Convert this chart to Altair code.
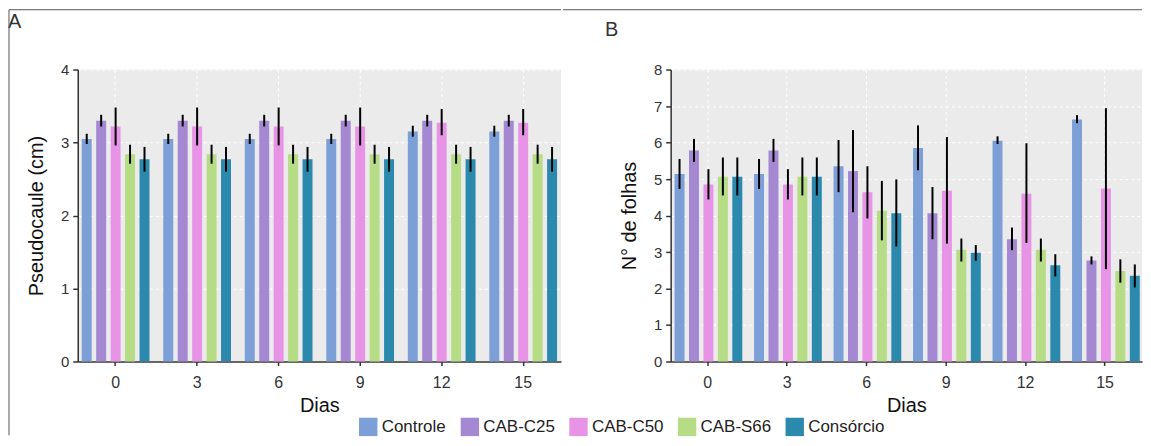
import altair as alt
import pandas as pd

dias = ["0", "3", "6", "9", "12", "15"]
tratamentos = ["Controle", "CAB-C25", "CAB-C50", "CAB-S66", "Consórcio"]
cores = ["#7B9FD6", "#A488D2", "#E894E6", "#B6DC85", "#2B89AD"]

# Panel A - Pseudocaule (cm)
a_controle = [3.05, 3.05, 3.05, 3.05, 3.15, 3.15]
a_controle_lo = [2.98, 2.98, 2.98, 2.98, 3.08, 3.08]
a_controle_hi = [3.12, 3.12, 3.12, 3.12, 3.23, 3.23]
a_c25 = [3.30, 3.30, 3.30, 3.30, 3.30, 3.30]
a_c25_lo = [3.22, 3.22, 3.22, 3.22, 3.22, 3.22]
a_c25_hi = [3.38, 3.38, 3.38, 3.38, 3.38, 3.38]
a_c50 = [3.22, 3.22, 3.22, 3.22, 3.27, 3.27]
a_c50_lo = [2.96, 2.96, 2.96, 2.96, 3.10, 3.10]
a_c50_hi = [3.48, 3.48, 3.48, 3.48, 3.46, 3.46]
a_s66 = [2.84, 2.84, 2.84, 2.84, 2.84, 2.84]
a_s66_lo = [2.71, 2.71, 2.71, 2.71, 2.71, 2.71]
a_s66_hi = [2.97, 2.97, 2.97, 2.97, 2.97, 2.97]
a_cons = [2.77, 2.77, 2.77, 2.77, 2.77, 2.77]
a_cons_lo = [2.60, 2.60, 2.60, 2.60, 2.60, 2.60]
a_cons_hi = [2.94, 2.94, 2.94, 2.94, 2.94, 2.94]

# Panel B - N° de folhas
b_controle = [5.14, 5.14, 5.35, 5.85, 6.05, 6.63]
b_controle_lo = [4.73, 4.73, 4.64, 5.24, 5.96, 6.53]
b_controle_hi = [5.55, 5.55, 6.07, 6.47, 6.17, 6.75]
b_c25 = [5.78, 5.78, 5.22, 4.06, 3.35, 2.77]
b_c25_lo = [5.47, 5.47, 4.09, 3.35, 3.05, 2.66]
b_c25_hi = [6.10, 6.10, 6.34, 4.78, 3.67, 2.88]
b_c50 = [4.85, 4.85, 4.64, 4.68, 4.60, 4.74]
b_c50_lo = [4.44, 4.44, 3.92, 3.23, 3.25, 2.53]
b_c50_hi = [5.27, 5.27, 5.35, 6.15, 5.98, 6.94]
b_s66 = [5.06, 5.06, 4.13, 3.06, 3.06, 2.48]
b_s66_lo = [4.55, 4.55, 3.32, 2.74, 2.74, 2.16]
b_s66_hi = [5.59, 5.59, 4.95, 3.37, 3.37, 2.80]
b_cons = [5.06, 5.06, 4.06, 2.98, 2.64, 2.35]
b_cons_lo = [4.55, 4.55, 3.15, 2.76, 2.33, 2.03]
b_cons_hi = [5.59, 5.59, 4.99, 3.19, 2.94, 2.66]


def build(series):
    rows = []
    for t, (vals, lo, hi) in zip(tratamentos, series):
        for d, v, l, h in zip(dias, vals, lo, hi):
            rows.append({"Dias": d, "Tratamento": t, "Valor": v, "Lo": l, "Hi": h})
    return pd.DataFrame(rows)


df_a = build([
    (a_controle, a_controle_lo, a_controle_hi),
    (a_c25, a_c25_lo, a_c25_hi),
    (a_c50, a_c50_lo, a_c50_hi),
    (a_s66, a_s66_lo, a_s66_hi),
    (a_cons, a_cons_lo, a_cons_hi),
])
df_b = build([
    (b_controle, b_controle_lo, b_controle_hi),
    (b_c25, b_c25_lo, b_c25_hi),
    (b_c50, b_c50_lo, b_c50_hi),
    (b_s66, b_s66_lo, b_s66_hi),
    (b_cons, b_cons_lo, b_cons_hi),
])

legend = alt.Legend(
    title=None, orient="none", legendX=282, legendY=349, direction="horizontal",
    symbolType="square", symbolSize=340, symbolStrokeWidth=0, symbolOpacity=1,
    labelFontSize=17, labelColor="#222", labelOffset=4, columnPadding=14,
)

border = pd.DataFrame({"k": [0]})

PLOT_H = 293


def panel(df, ymax, ytitle, width, letter, letter_x, letter_y, left_ext):
    x_axis = alt.Axis(title="Dias", labelAngle=0, labelFontSize=16,
                      titleFontSize=20, tickSize=4, labelPadding=9,
                      titlePadding=5, titleFontWeight="normal")
    x_scale = alt.Scale(paddingInner=0.169, paddingOuter=0.049)
    x = alt.X("Dias:N", sort=dias, scale=x_scale, axis=x_axis)
    xo = alt.XOffset("Tratamento:N", sort=tratamentos,
                     scale=alt.Scale(paddingInner=0.31, paddingOuter=0))
    y_scale = alt.Scale(domain=[0, ymax], nice=False)
    y_axis = alt.Axis(title=ytitle, values=list(range(ymax + 1)),
                      format="d", labelOverlap=False,
                      labelFontSize=15, titleFontSize=20, tickSize=5,
                      labelPadding=4, titlePadding=14,
                      titleFontWeight="normal")
    color = alt.Color("Tratamento:N", sort=tratamentos,
                      scale=alt.Scale(domain=tratamentos, range=cores),
                      legend=legend)
    bars = alt.Chart(df).mark_bar().encode(
        x=x, xOffset=xo,
        y=alt.Y("Valor:Q", scale=y_scale, axis=y_axis), color=color)
    err = alt.Chart(df).mark_rule(color="black", strokeWidth=2).encode(
        x=x, xOffset=xo,
        y=alt.Y("Lo:Q", scale=y_scale, axis=y_axis), y2="Hi:Q")
    top = alt.Chart(border).mark_rule(color="#555", strokeWidth=1).encode(
        x=alt.value(left_ext), x2=alt.value(width), y=alt.value(-60))
    label = alt.Chart(border).mark_text(
        text=letter, fontSize=20, color="#333", align="left",
        baseline="top").encode(x=alt.value(letter_x), y=alt.value(letter_y))
    layers = [bars, err, top, label]
    if letter == "A":
        left = alt.Chart(border).mark_rule(color="#555", strokeWidth=1).encode(
            x=alt.value(left_ext), y=alt.value(-60), y2=alt.value(367))
        layers.append(left)
    return alt.layer(*layers).properties(width=width, height=PLOT_H)


pa = panel(df_a, 4, "Pseudocaule (cm)", 485, "A", -70, -58, -69)
pb = panel(df_b, 8, "N° de folhas", 473, "B", -66, -50, -108)

chart = alt.hconcat(pa, pb, spacing=0).properties(
    padding={"left": 0, "top": 0, "right": 0, "bottom": 0}
).configure(font="Liberation Sans").configure_view(
    fill="#EBEBEB", strokeWidth=0
).configure_axis(
    domainColor="#333", domainWidth=1.5, tickColor="#333", tickWidth=1.5,
    labelColor="#333", titleColor="#111", grid=True, gridColor="white",
    gridDash=[3, 3], gridWidth=1,
)

chart.save("out.html", embed_options={"renderer": "svg", "actions": False})
